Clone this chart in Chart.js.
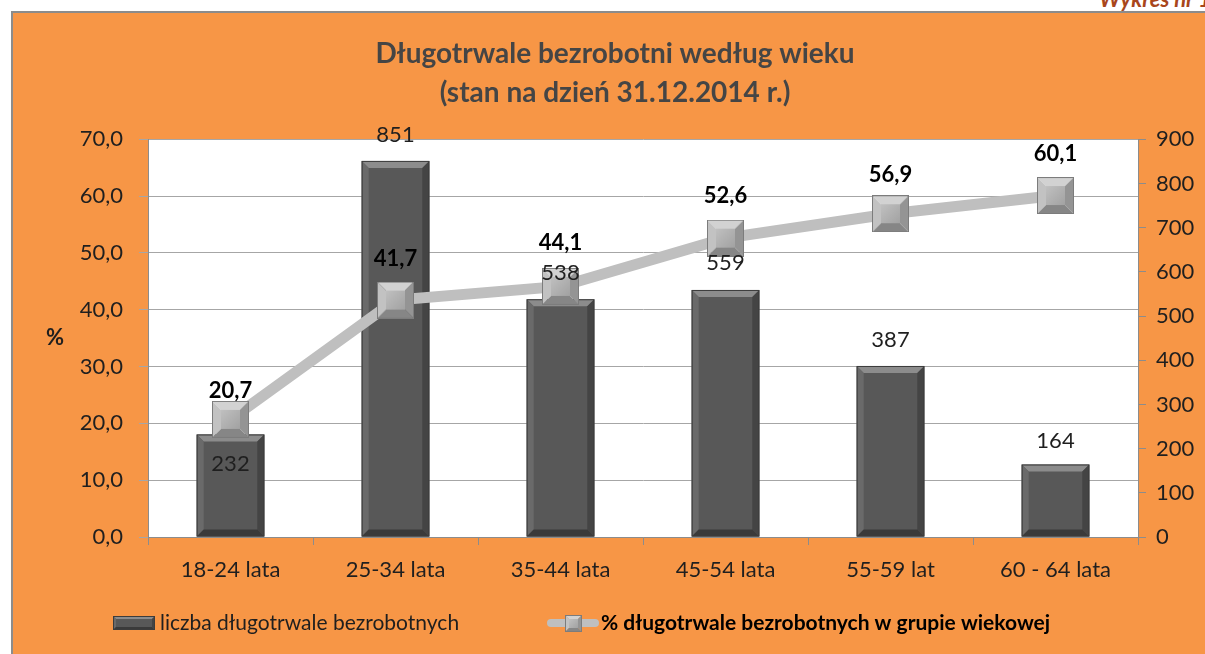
<!DOCTYPE html>
<html>
<head>
<meta charset="utf-8">
<script src="https://cdn.jsdelivr.net/npm/chart.js@4.4.1/dist/chart.umd.min.js"></script>
<style>
  html, body { margin: 0; padding: 0; background: #fff; overflow: hidden; width: 1205px; height: 654px; }
  #ramka { position: absolute; left: 11px; top: 11px; width: 1210px; height: 660px; background: #F79646; border-left: 2px solid #8c8c8c; border-top: 2px solid #8c8c8c; }
  #wykres { position: absolute; left: 0; top: 0; }
  #nr { position: absolute; right: -6px; top: -15px; font: italic bold 22px Lato, sans-serif; color: #a8461c; }
</style>
</head>
<body>
<div id="nr">Wykres nr 1</div>
<div id="ramka"><canvas id="wykres" width="1204" height="641"></canvas></div>
<script>
// Dane
const kategorie = ['18-24 lata', '25-34 lata', '35-44 lata', '45-54 lata', '55-59 lat', '60 - 64 lata'];
const liczba = [232, 851, 538, 559, 387, 164];
const procent = [20.7, 41.7, 44.1, 52.6, 56.9, 60.1];
const osLewa = { min: 0, max: 70, krok: 10 };
const osPrawa = { min: 0, max: 900, krok: 100 };

const etykietaLiczba = 'liczba długotrwale bezrobotnych';
const etykietaProcent = '% długotrwale bezrobotnych w grupie wiekowej';

// przesunięcia etykiet (tylko wygląd)
const przesBar = [29, -26, -26, -27, -26, -24];
const przesLinia = [-28, -41, -44, -42, -39, -42];

const fmt = (v) => v.toFixed(1).replace('.', ',');

Chart.defaults.font.family = 'Lato, sans-serif';

// Znacznik kwadratowy z fazą
function znacznik(size, b) {
    const c = document.createElement('canvas');
    c.width = size; c.height = size;
    const g = c.getContext('2d');
    const s = size;
    const face = (pts, col) => {
        g.beginPath();
        g.moveTo(pts[0][0], pts[0][1]);
        pts.slice(1).forEach((p) => g.lineTo(p[0], p[1]));
        g.closePath();
        g.fillStyle = col;
        g.fill();
    };
    face([[0, 0], [s, 0], [s - b, b], [b, b]], '#d2d2d2');
    face([[0, 0], [b, b], [b, s - b], [0, s]], '#c2c2c2');
    face([[s, 0], [s, s], [s - b, s - b], [s - b, b]], '#949494');
    face([[0, s], [b, s - b], [s - b, s - b], [s, s]], '#868686');
    const gr = g.createLinearGradient(b, b, s - b, s - b);
    gr.addColorStop(0, '#c0c0c0');
    gr.addColorStop(1, '#a2a2a2');
    g.fillStyle = gr;
    g.fillRect(b, b, s - 2 * b, s - 2 * b);
    g.strokeStyle = '#7c7c7c';
    g.lineWidth = 1;
    g.strokeRect(0.5, 0.5, s - 1, s - 1);
    return c;
}

function slupek(ctx, left, top, right, bottom, b) {
    const face = (pts, col) => {
        ctx.beginPath();
        ctx.moveTo(pts[0][0], pts[0][1]);
        pts.slice(1).forEach((p) => ctx.lineTo(p[0], p[1]));
        ctx.closePath();
        ctx.fillStyle = col;
        ctx.fill();
    };
    ctx.fillStyle = '#585858';
    ctx.fillRect(left, top, right - left, bottom - top);
    face([[left, top], [right, top], [right - b, top + b], [left + b, top + b]], '#8c8c8c');
    face([[left, top], [left + b, top + b], [left + b, bottom - b], [left, bottom]], '#6a6a6a');
    face([[right, top], [right, bottom], [right - b, bottom - b], [right - b, top + b]], '#444444');
    face([[left, bottom], [left + b, bottom - b], [right - b, bottom - b], [right, bottom]], '#3a3a3a');
    ctx.strokeStyle = '#3c3c3c';
    ctx.lineWidth = 1;
    ctx.strokeRect(left + 0.5, top + 0.5, right - left - 1, bottom - top - 1);
}

const duzyZnacznik = znacznik(37, 9);
const malyZnacznik = znacznik(17, 4);

const tloPlugin = {
    id: 'tlo',
    beforeDraw(chart) {
        const a = chart.chartArea;
        chart.ctx.save();
        chart.ctx.fillStyle = '#ffffff';
        chart.ctx.fillRect(a.left, a.top, a.right - a.left, a.bottom - a.top);
        chart.ctx.restore();
    },
};

const etykietyPlugin = {
    id: 'etykiety',
    afterDatasetDraw(chart, args) {
        if (args.index === 0) {
            const ctx = chart.ctx;
            ctx.save();
            args.meta.data.forEach((el) => {
                slupek(ctx, el.x - el.width / 2, el.y, el.x + el.width / 2, el.base, 7);
            });
            ctx.restore();
        }
    },
    afterDatasetsDraw(chart) {
        const ctx = chart.ctx;
        ctx.save();
        ctx.textAlign = 'center';
        ctx.textBaseline = 'middle';
        // wartości słupków
        ctx.font = '22px Lato, sans-serif';
        ctx.fillStyle = '#1f1f1f';
        chart.getDatasetMeta(0).data.forEach((el, i) => {
            ctx.fillText(String(liczba[i]), el.x, el.y + przesBar[i]);
        });
        // wartości linii
        ctx.font = 'bold 22px Lato, sans-serif';
        ctx.fillStyle = '#000';
        chart.getDatasetMeta(1).data.forEach((el, i) => {
            ctx.fillText(fmt(procent[i]), el.x, el.y + przesLinia[i]);
        });
        // "%" przy osi
        const a = chart.chartArea;
        ctx.fillStyle = '#1f1f1f';
        ctx.fillText('%', 42, (a.top + a.bottom) / 2);
        ctx.restore();
    },
    afterDraw(chart) {
        const ctx = chart.ctx;
        const yc = 610;
        ctx.save();
        slupek(ctx, 100, yc - 7, 142, yc + 7, 3);
        ctx.font = '21px Lato, sans-serif';
        ctx.fillStyle = '#1f1f1f';
        ctx.textAlign = 'left';
        ctx.textBaseline = 'middle';
        ctx.fillText(etykietaLiczba, 147, yc);
        ctx.strokeStyle = '#bfbfbf';
        ctx.lineWidth = 8;
        ctx.lineCap = 'round';
        ctx.beginPath();
        ctx.moveTo(538, yc);
        ctx.lineTo(582, yc);
        ctx.stroke();
        ctx.drawImage(malyZnacznik, 560 - 8, yc - 8);
        ctx.font = 'bold 21px Lato, sans-serif';
        ctx.fillStyle = '#000';
        ctx.fillText(etykietaProcent, 588, yc);
        ctx.restore();
    },
};

const ctx = document.getElementById('wykres').getContext('2d');

new Chart(ctx, {
    data: {
        labels: kategorie,
        datasets: [
            {
                type: 'bar',
                label: etykietaLiczba,
                data: liczba,
                yAxisID: 'y1',
                backgroundColor: 'rgba(0,0,0,0)',
                categoryPercentage: 1,
                barPercentage: 0.41,
                order: 1,
            },
            {
                type: 'line',
                label: etykietaProcent,
                data: procent,
                yAxisID: 'y',
                borderColor: '#bfbfbf',
                borderWidth: 11,
                pointStyle: duzyZnacznik,
                pointRadius: 18,
                pointHoverRadius: 18,
                order: 0,
            },
        ],
    },
    options: {
        responsive: false,
        animation: false,
        events: [],
        layout: { padding: 0 },
        plugins: {
            legend: { display: false },
            tooltip: { enabled: false },
            title: {
                display: true,
                text: ['Długotrwale bezrobotni według wieku', '(stan na dzień 31.12.2014 r.)'],
                color: '#454545',
                font: { size: 28, weight: 'bold', lineHeight: 1.38 },
                padding: { top: 22, bottom: 27 },
            },
        },
        scales: {
            x: {
                grid: { offset: true, drawOnChartArea: false, tickLength: 8, color: '#8c8c8c' },
                border: { color: '#8c8c8c' },
                ticks: { color: '#1f1f1f', font: { size: 22 }, padding: 12 },
                afterFit(s) { s.height = 117; },
            },
            y: {
                position: 'left',
                min: osLewa.min,
                max: osLewa.max,
                ticks: { stepSize: osLewa.krok, color: '#1f1f1f', font: { size: 22 }, padding: 16, callback: (v) => fmt(v) },
                grid: { color: '#a6a6a6', tickLength: 9 },
                border: { color: '#8c8c8c' },
                afterFit(s) { s.width = 135; },
            },
            y1: {
                position: 'right',
                min: osPrawa.min,
                max: osPrawa.max,
                ticks: { stepSize: osPrawa.krok, color: '#1f1f1f', font: { size: 22 }, padding: 10 },
                grid: { drawOnChartArea: false, tickLength: 8, color: '#8c8c8c' },
                border: { color: '#8c8c8c' },
                afterFit(s) { s.width = 79; },
            },
        },
    },
    plugins: [tloPlugin, etykietyPlugin],
});
</script>
</body>
</html>
